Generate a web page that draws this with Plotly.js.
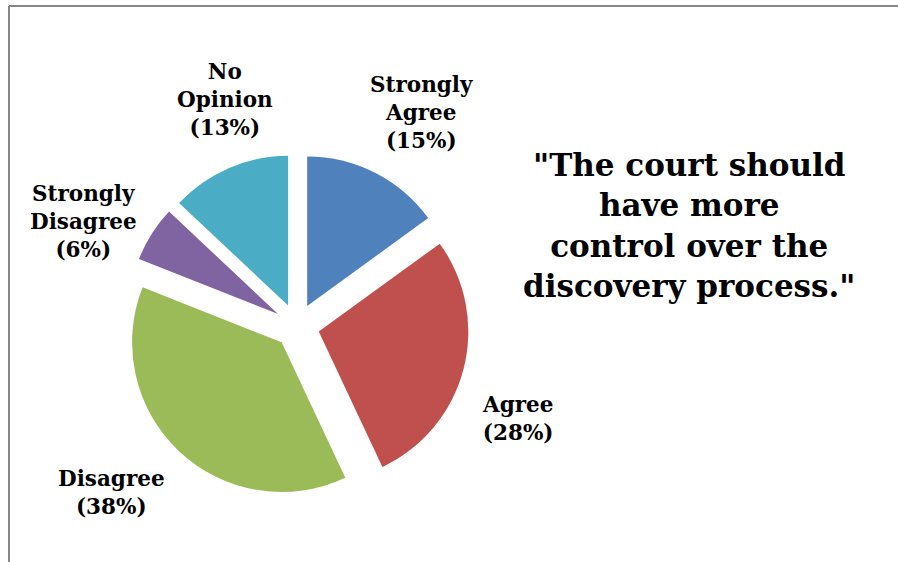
<!DOCTYPE html>
<html>
<head>
<meta charset="utf-8">
<script src="https://cdn.plot.ly/plotly-3.0.1.min.js"></script>
<style>html,body{margin:0;padding:0;background:#fff;}#chart{width:898px;height:562px;}</style>
</head>
<body>
<div id="chart"></div>
<script>
// Data
var categories = ["Strongly Agree", "Agree", "Disagree", "Strongly Disagree", "No Opinion"];
var labelLines = [["Strongly", "Agree"], ["Agree"], ["Disagree"], ["Strongly", "Disagree"], ["No", "Opinion"]];
var values = [15, 28, 38, 6, 13];
var colors = ["#4F81BD", "#C0504D", "#9BBB59", "#8064A2", "#4BACC6"];
var titleLines = ["\"The court should", "have more", "control over the", "discovery process.\""];

// label placement (paper fractions) — text positions only
var labelPos = [[421/898, 1-112/562], [518/898, 1-418/562], [111/898, 1-492/562], [83/898, 1-221/562], [225/898, 1-99/562]];

var total = values.reduce(function(a,b){return a+b;}, 0);
var serif = "DejaVu Serif";

var annotations = categories.map(function(c, i){
  var pct = Math.round(values[i] / total * 100);
  return {
    xref: "paper", yref: "paper",
    x: labelPos[i][0], y: labelPos[i][1],
    xanchor: "center", yanchor: "middle",
    showarrow: false, align: "center",
    text: "<b>" + labelLines[i].concat(["(" + pct + "%)"]).join("<br>") + "</b>",
    font: {family: serif, size: 21.5, color: "#000"}
  };
});
annotations.push({
  xref: "paper", yref: "paper",
  x: 689/898, y: 1-225/562,
  xanchor: "center", yanchor: "middle",
  showarrow: false, align: "center",
  text: "<b>" + titleLines.join("<br>") + "</b>",
  font: {family: serif, size: 31, color: "#000"}
});

var trace = {
  type: "pie",
  labels: categories,
  values: values,
  sort: false,
  direction: "clockwise",
  rotation: 0,
  pull: values.map(function(){return 0.15;}),
  marker: {colors: colors, line: {width: 0}},
  textinfo: "none",
  hoverinfo: "label+percent",
  showlegend: false,
  domain: {x: [125/898, 469/898], y: [64/562, 408/562]}
};

var layout = {
  width: 898, height: 562,
  margin: {l: 0, r: 0, t: 0, b: 0},
  paper_bgcolor: "#ffffff",
  font: {family: serif},
  showlegend: false,
  annotations: annotations,
  shapes: [
    {type: "line", xref: "paper", yref: "paper", x0: 9/898, x1: 9/898, y0: 0, y1: 1-6/562, line: {color: "#868686", width: 2}},
    {type: "line", xref: "paper", yref: "paper", x0: 9/898, x1: 1, y0: 1-6/562, y1: 1-6/562, line: {color: "#868686", width: 2}}
  ]
};

Plotly.newPlot("chart", [trace], layout, {displayModeBar: false, staticPlot: true});
</script>
</body>
</html>
